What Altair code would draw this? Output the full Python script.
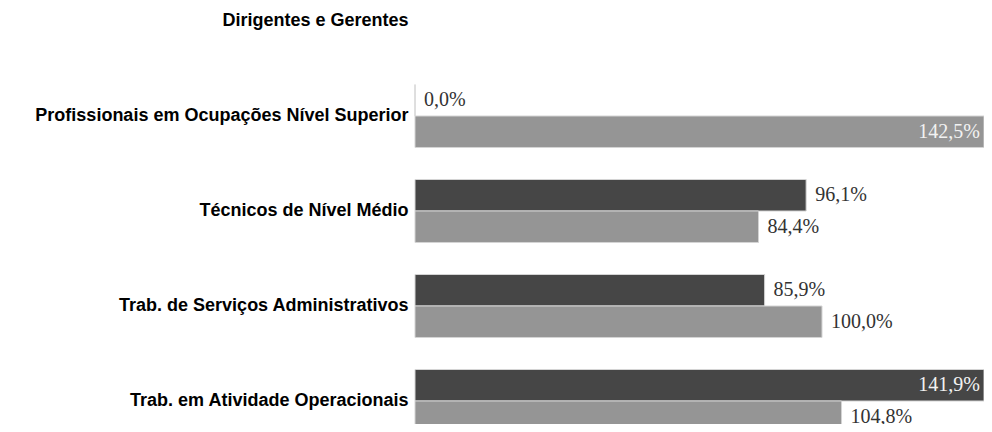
import altair as alt
import pandas as pd

categorias = [
    "Dirigentes e Gerentes",
    "Profissionais em Ocupações Nível Superior",
    "Técnicos de Nível Médio",
    "Trab. de Serviços Administrativos",
    "Trab. em Atividade Operacionais",
]
series = ["Série 1", "Série 2"]
serie_1 = [None, 0.0, 96.1, 85.9, 141.9]
serie_2 = [None, 142.5, 84.4, 100.0, 104.8]

rows = []
for c, a, b in zip(categorias, serie_1, serie_2):
    rows.append({"categoria": c, "serie": series[0], "valor": a})
    rows.append({"categoria": c, "serie": series[1], "valor": b})
df = pd.DataFrame(rows)

W = 569
H = 416

x_scale = alt.Scale(domain=[0, 139.8], clamp=True, nice=False, zero=True)
y_scale = alt.Scale(domain=categorias, range=[-34.5, 440.5],
                    paddingInner=0.337, paddingOuter=0.1685)
yoff_scale = alt.Scale(domain=series, paddingInner=0, paddingOuter=0)

base = alt.Chart(df).transform_filter("datum.valor != null").transform_calculate(
    rotulo="replace(format(datum.valor, '.1f'), '.', ',') + '%'"
)

y_enc = alt.Y("categoria:N", scale=y_scale, title=None, sort=categorias,
              axis=alt.Axis(domain=False, ticks=False, labelPadding=7,
                            labelFont="Liberation Sans", labelFontSize=18,
                            labelFontWeight="bold", labelColor="#000000",
                            labelLimit=500))
yoff_enc = alt.YOffset("serie:N", scale=yoff_scale, sort=series)

bars = base.mark_bar(stroke="#d4d4d4", strokeWidth=1).encode(
    x=alt.X("valor:Q", scale=x_scale, axis=None),
    y=y_enc,
    yOffset=yoff_enc,
    color=alt.Color("serie:N", scale=alt.Scale(domain=series, range=["#464646", "#959595"]),
                    legend=None),
)

fora = base.transform_filter("datum.valor <= 130").mark_text(
    align="left", baseline="middle", dx=9, font="Liberation Serif",
    fontSize=20, color="#333333"
).encode(
    x=alt.X("valor:Q", scale=x_scale, axis=None),
    y=alt.Y("categoria:N", scale=y_scale, sort=categorias),
    yOffset=yoff_enc,
    text="rotulo:N",
)

dentro = base.transform_filter("datum.valor > 130").mark_text(
    align="right", baseline="middle", dx=-4, font="Liberation Serif",
    fontSize=20, color="#f2f2f2"
).encode(
    x=alt.X("valor:Q", scale=x_scale, axis=None),
    y=alt.Y("categoria:N", scale=y_scale, sort=categorias),
    yOffset=yoff_enc,
    text="rotulo:N",
)

chart = alt.layer(bars, fora, dentro).properties(
    width=W, height=H,
    background="white",
    autosize=alt.AutoSizeParams(type="none"),
    padding={"left": 407, "top": 0, "right": 0, "bottom": 0},
).configure_view(strokeWidth=0, stroke="transparent")

chart.save("out.html", embed_options={"renderer": "svg", "actions": False})
